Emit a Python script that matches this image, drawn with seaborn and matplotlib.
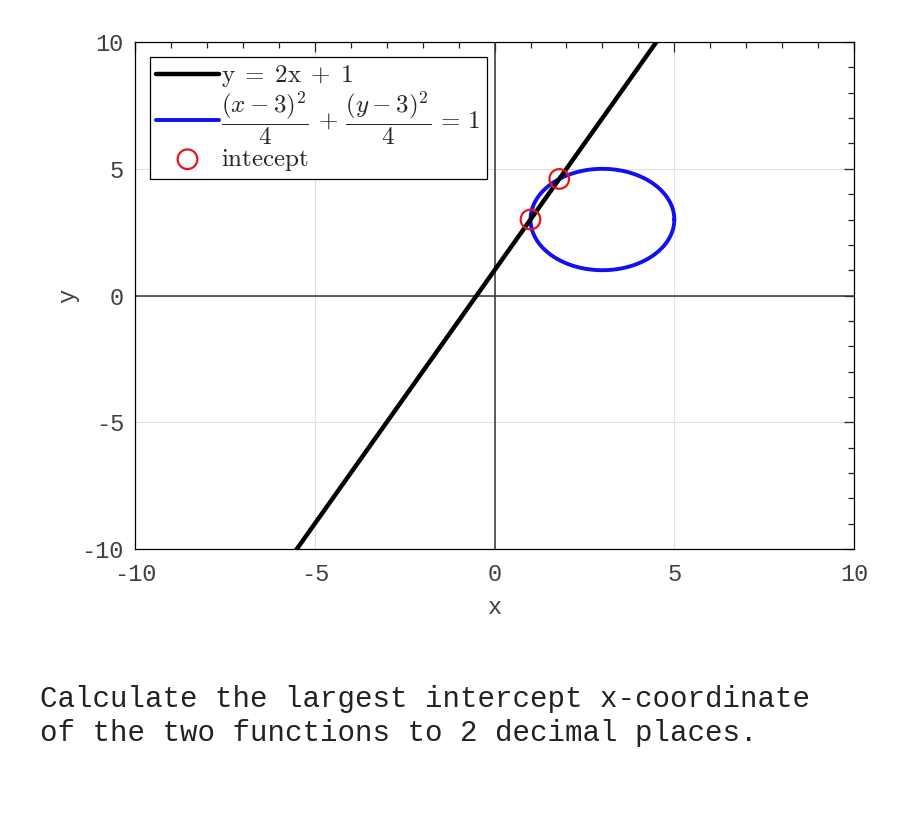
import matplotlib
matplotlib.use('agg')
import numpy as np
import pandas as pd
import matplotlib.pyplot as plt
import seaborn as sns
from matplotlib.ticker import MultipleLocator

# line y = 2x + 1
line_x = [-10, 10]
slope = 2
offset = 1
# circle (x-3)^2/4 + (y-3)^2/4 = 1
circle_cx = 3
circle_cy = 3
circle_r = 2
# intercepts
intercept_x = [1.0, 1.8]
intercept_y = [3.0, 4.6]

ticks = [-10, -5, 0, 5, 10]

sns.set_theme(style="white")
plt.rcParams['font.family'] = ['Liberation Mono', 'DejaVu Sans Mono']
plt.rcParams['mathtext.fontset'] = 'cm'
plt.rcParams['axes.unicode_minus'] = False

line_df = pd.DataFrame({"x": line_x, "y": [slope * v + offset for v in line_x]})
theta = np.linspace(0, 2 * np.pi, 400)
circ_df = pd.DataFrame({"x": circle_cx + circle_r * np.cos(theta),
                        "y": circle_cy + circle_r * np.sin(theta)})
pts_df = pd.DataFrame({"x": intercept_x, "y": intercept_y})

fig = plt.figure(figsize=(9, 8.25), dpi=100)
ax = fig.add_axes([0.15, 0.3345, 0.799, 0.6145])

ax.axhline(0, color='#333333', lw=1.1, zorder=1)
ax.axvline(0, color='#333333', lw=1.1, zorder=1)

sns.lineplot(data=line_df, x="x", y="y", color='black', lw=3.2, ax=ax,
             label=r'$\mathrm{y\;=\;2x\;+\;1}$', zorder=3)
sns.lineplot(data=circ_df, x="x", y="y", sort=False, estimator=None, color='#1010f0',
             lw=2.8, ax=ax,
             label=r'$\dfrac{(x-3)^2}{4}\,+\,\dfrac{(y-3)^2}{4}\,=\,1$', zorder=2)
sns.scatterplot(data=pts_df, x="x", y="y", marker='o', s=200, facecolors='none',
                edgecolors='#e8141c', linewidths=1.6, ax=ax,
                label=r'$\mathrm{intecept}$', zorder=4)

ax.set_xlim(-10, 10)
ax.set_ylim(-10, 10)
ax.set_xticks(ticks)
ax.set_yticks(ticks)
ax.xaxis.set_minor_locator(MultipleLocator(1))
ax.yaxis.set_minor_locator(MultipleLocator(1))
ax.grid(True, which='major', color='#e0e0e0', lw=0.8)
ax.set_axisbelow(True)
ax.tick_params(which='both', direction='in', top=True, right=True,
               colors='#222222', labelcolor='#404040', labelsize=17, width=0.9)
ax.tick_params(which='major', length=7)
ax.tick_params(axis='x', which='major', pad=10)
ax.tick_params(axis='y', which='major', pad=8)
ax.tick_params(which='minor', length=4)
for s in ax.spines.values():
    s.set_color('black')
    s.set_linewidth(0.9)

ax.set_xlabel('x', fontsize=17, color='#404040', labelpad=7)
ax.set_ylabel('y', fontsize=17, color='#404040', labelpad=2)

leg = ax.legend(loc='upper left', fontsize=18, frameon=True, fancybox=False,
                edgecolor='black', handlelength=2.5, handletextpad=0.1,
                borderpad=0.25, labelspacing=0.0, borderaxespad=0.6)
leg.get_frame().set_linewidth(0.9)
leg.get_frame().set_alpha(1)

fig.text(40 / 900, 1 - 747 / 825,
         "Calculate the largest intercept x-coordinate\nof the two functions to 2 decimal places.",
         fontsize=21, color='#222222', ha='left', va='bottom', linespacing=1.26)

fig.savefig("out.png", dpi=100)
